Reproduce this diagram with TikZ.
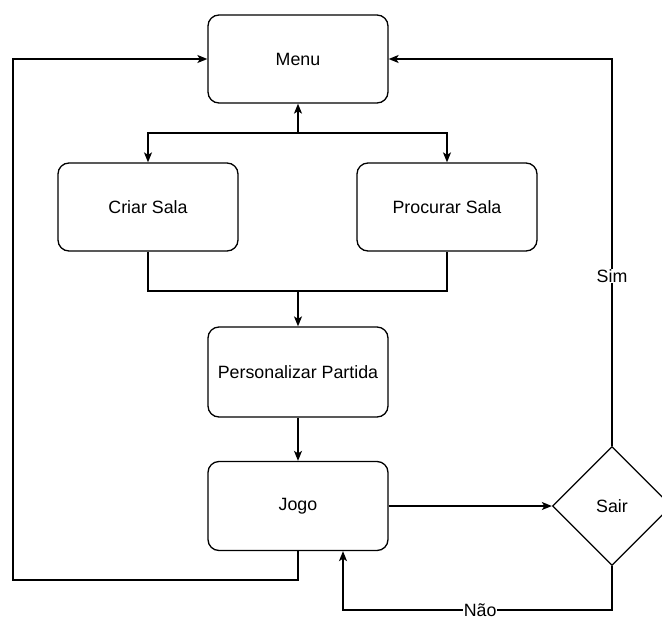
\documentclass[tikz,border=0pt]{standalone}
\usepackage{fontspec}
\setmainfont{Liberation Sans}
\usetikzlibrary{arrows.meta,shapes.geometric}

\tikzset{
  box/.style={draw, rounded corners=11pt, minimum width=180pt, minimum height=88pt,
    line width=1.3pt, font=\fontsize{17.8}{20}\selectfont, inner sep=0pt},
  decision/.style={draw, diamond, aspect=1, minimum width=119pt, minimum height=119pt,
    line width=1.3pt, font=\fontsize{17.8}{20}\selectfont, inner sep=0pt},
  link/.style={line width=1.3pt, -{Stealth[length=10pt,width=8pt,inset=2.5pt]}},
  plain/.style={line width=1.3pt},
  tag/.style={fill=white, inner sep=0.5pt, font=\fontsize{17.8}{20}\selectfont}
}

\begin{document}
\begin{tikzpicture}[x=1pt,y=-1pt]
  \useasboundingbox (0,0) rectangle (662,619);
  \fill[white] (0,0) rectangle (662,619);

  % nodes
  \node[box] (menu) at (298,59) {Menu};
  \node[box] (criar) at (148,207) {Criar Sala};
  \node[box] (procurar) at (447,207) {Procurar Sala};
  \node[box, minimum height=90pt] (pers) at (298,372) {Personalizar Partida};
  \node[box, minimum height=89pt] (jogo) at (298,506) {Jogo};
  \node[decision] (sair) at (612,506) {Sair};

  % junction points
  \coordinate (split) at (298,133);
  \coordinate (merge) at (298,291);
  \coordinate (back) at (13,580);
  \coordinate (retry) at (343,610);

  % menu to the two room options
  \draw[link] (split) -- (menu.south);
  \draw[link] (split) -| (criar.north);
  \draw[link] (split) -| (procurar.north);

  % both options merge into match setup
  \draw[plain] (criar.south) |- (merge) -| (procurar.south);
  \draw[link] (merge) -- (pers.north);

  \draw[link] (pers.south) -- (jogo.north);
  \draw[link] (jogo.east) -- (sair.west);

  % decision branches
  \draw[link] (sair.north) |- node[tag, pos=0.22] {Sim} (menu.east);
  \draw[link] (sair.south) |- node[tag, pos=0.745] {Não} (retry) -- (retry |- jogo.south);

  % loop from the game back to the menu
  \draw[link] (jogo.south) |- (back) |- (menu.west);
\end{tikzpicture}
\end{document}
